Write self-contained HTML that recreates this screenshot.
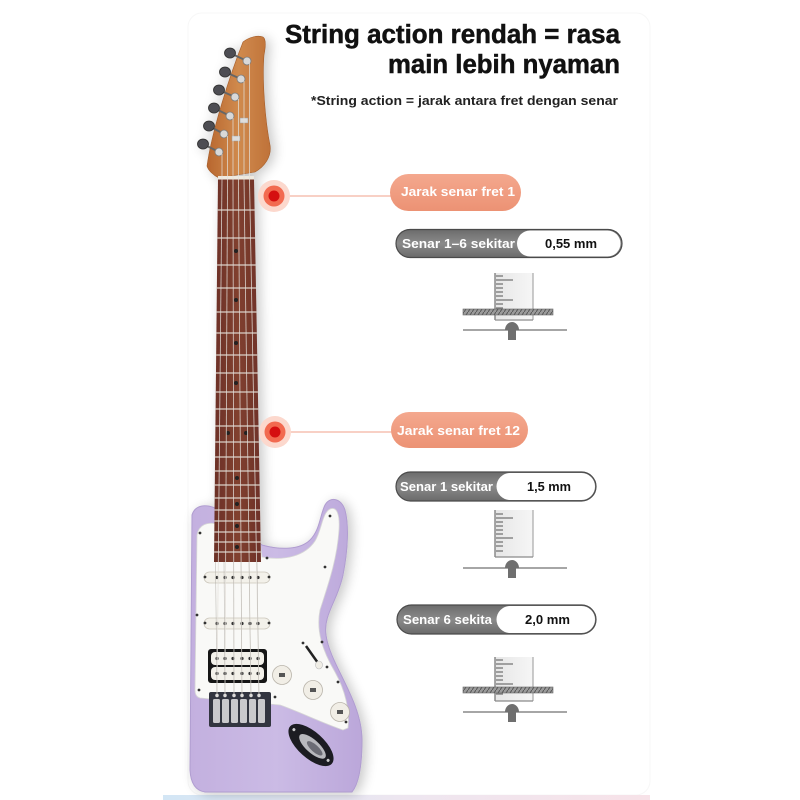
<!DOCTYPE html>
<html><head><meta charset="utf-8"><style>
html,body{margin:0;padding:0;background:#fff;}
svg{display:block;}
text{font-family:"Liberation Sans",Arial,sans-serif;font-weight:bold;}
</style></head><body>
<svg width="800" height="800" viewBox="0 0 800 800" xmlns="http://www.w3.org/2000/svg">
<defs>
<linearGradient id="strip" x1="0" x2="1" y1="0" y2="0"><stop offset="0" stop-color="#d3e6f5"/><stop offset="0.5" stop-color="#eee6f0"/><stop offset="1" stop-color="#f7e2e8"/></linearGradient>
<linearGradient id="head" x1="0" x2="1" y1="0" y2="0"><stop offset="0" stop-color="#b8672f"/><stop offset="0.5" stop-color="#d08a4d"/><stop offset="1" stop-color="#bf7239"/></linearGradient>
<linearGradient id="board" x1="0" x2="1" y1="0" y2="0"><stop offset="0" stop-color="#6b3027"/><stop offset="0.5" stop-color="#81402f"/><stop offset="1" stop-color="#6d3128"/></linearGradient>
<linearGradient id="bodyg" x1="0" x2="1" y1="0" y2="0"><stop offset="0" stop-color="#c3b0df"/><stop offset="0.5" stop-color="#cbbbe5"/><stop offset="1" stop-color="#bba7da"/></linearGradient>
<linearGradient id="pill" x1="0" x2="0" y1="0" y2="1"><stop offset="0" stop-color="#f4a88e"/><stop offset="1" stop-color="#ec9274"/></linearGradient>
<linearGradient id="gray" x1="0" x2="0" y1="0" y2="1"><stop offset="0" stop-color="#6c6c6c"/><stop offset="0.5" stop-color="#8a8a8a"/><stop offset="1" stop-color="#6a6a6a"/></linearGradient>
<linearGradient id="rul" x1="0" x2="1" y1="0" y2="0"><stop offset="0" stop-color="#e6e6e6"/><stop offset="1" stop-color="#f6f6f6"/></linearGradient>
<linearGradient id="strg" x1="0" x2="1" y1="0" y2="0"><stop offset="0" stop-color="#aaa" stop-opacity="0.2"/><stop offset="0.3" stop-color="#888"/><stop offset="0.7" stop-color="#888"/><stop offset="1" stop-color="#aaa" stop-opacity="0.2"/></linearGradient>
<pattern id="hatch" width="4" height="6" patternUnits="userSpaceOnUse"><rect width="4" height="6" fill="#9a9a9a"/><line x1="0" y1="6" x2="4" y2="0" stroke="#555" stroke-width="1"/></pattern>
<clipPath id="fb"><path d="M218,179 L254,179 L261,562 L214,562 Z"/></clipPath>
<filter id="sh" x="-30%" y="-10%" width="160%" height="120%"><feGaussianBlur in="SourceAlpha" stdDeviation="6"/><feOffset dx="4" dy="2"/><feComponentTransfer><feFuncA type="linear" slope="0.22"/></feComponentTransfer><feMerge><feMergeNode/><feMergeNode in="SourceGraphic"/></feMerge></filter>
</defs>

<rect x="0" y="0" width="800" height="800" fill="#fff"/>
<rect x="188" y="13" width="462" height="782" rx="14" fill="#fff" stroke="#f7f7f7" stroke-width="1"/>
<rect x="163" y="795" width="487" height="5" fill="url(#strip)"/>

<text x="285" y="43" font-size="25.5" fill="#111" stroke="#111" stroke-width="0.5" textLength="335" lengthAdjust="spacingAndGlyphs">String action rendah = rasa</text>
<text x="388" y="73" font-size="25.5" fill="#111" stroke="#111" stroke-width="0.5" textLength="232" lengthAdjust="spacingAndGlyphs">main lebih nyaman</text>
<text x="311" y="105" font-size="12.5" fill="#222" textLength="307" lengthAdjust="spacingAndGlyphs">*String action = jarak antara fret dengan senar</text>

<g filter="url(#sh)">
  <path d="M215,508 C205,504 195,505 192,515 L190,770 Q191,790 205,792 L352,792 Q362,780 362,740 C362,700 330,665 326,635 C323,615 338,600 343,575 C348,550 349,525 345,510 C341,498 330,496 325,505 C320,515 320,530 310,540 C300,550 280,550 262,545 Z" fill="url(#bodyg)" stroke="#b09dd0" stroke-width="1"/>
  <path d="M197,535 C199,524 208,522 216,524 L258,524 L262,557 C285,561 305,556 315,541 C322,530 322,513 330,509 C337,506 340,515 339,530 C337,560 328,585 320,610 C316,630 322,650 335,672 C345,690 350,710 348,728 L343,730 C320,722 300,712 280,705 L200,698 C196,697 195,693 195,690 Z" fill="#f9f9f7" stroke="#d6d6d6" stroke-width="0.8"/>
  <path d="M243,42 C249,37 258,35 263,37 C266,39 266,45 264,55 C262,80 265,120 270,145 C272,157 264,167 255,172 L219,178 C213,175 208,170 207,166 C212,130 230,75 243,42 Z" fill="url(#head)" stroke="#a45d2a" stroke-width="0.6"/>
  <path d="M218,179 L254,179 L261,562 L214,562 Z" fill="url(#board)"/>
  <g clip-path="url(#fb)" stroke="#d9cfc6" stroke-width="1.3">
    <line x1="210" x2="265" y1="210" y2="210"/><line x1="210" x2="265" y1="238" y2="238"/><line x1="210" x2="265" y1="265" y2="265"/><line x1="210" x2="265" y1="288" y2="288"/><line x1="210" x2="265" y1="312" y2="312"/><line x1="210" x2="265" y1="333" y2="333"/><line x1="210" x2="265" y1="355" y2="355"/><line x1="210" x2="265" y1="373" y2="373"/><line x1="210" x2="265" y1="392" y2="392"/><line x1="210" x2="265" y1="409" y2="409"/><line x1="210" x2="265" y1="426" y2="426"/><line x1="210" x2="265" y1="442" y2="442"/><line x1="210" x2="265" y1="457" y2="457"/><line x1="210" x2="265" y1="471" y2="471"/><line x1="210" x2="265" y1="485" y2="485"/><line x1="210" x2="265" y1="498" y2="498"/><line x1="210" x2="265" y1="510" y2="510"/><line x1="210" x2="265" y1="521" y2="521"/><line x1="210" x2="265" y1="532" y2="532"/><line x1="210" x2="265" y1="542" y2="542"/><line x1="210" x2="265" y1="552" y2="552"/>
  </g>
  <g fill="#222">
    <circle cx="236" cy="251" r="2"/><circle cx="236" cy="300" r="2"/><circle cx="236" cy="343" r="2"/><circle cx="236" cy="383" r="2"/><circle cx="228" cy="433" r="2"/><circle cx="246" cy="433" r="2"/><circle cx="237" cy="478" r="2"/><circle cx="237" cy="504" r="2"/><circle cx="237" cy="526" r="2"/><circle cx="237" cy="547" r="2"/>
  </g>
  <rect x="218" y="176" width="36" height="3.5" fill="#efe9df"/>
  <g stroke="#666" stroke-width="2">
    <line x1="230" y1="53" x2="247" y2="61"/><line x1="225" y1="72" x2="241" y2="79"/><line x1="219" y1="90" x2="235" y2="97"/><line x1="214" y1="108" x2="230" y2="116"/><line x1="209" y1="126" x2="224" y2="134"/><line x1="203" y1="144" x2="219" y2="152"/>
  </g>
  <g fill="#4e4e52" stroke="#2e2e2e" stroke-width="0.8">
    <ellipse cx="230" cy="53" rx="5.5" ry="5"/><ellipse cx="225" cy="72" rx="5.5" ry="5"/><ellipse cx="219" cy="90" rx="5.5" ry="5"/><ellipse cx="214" cy="108" rx="5.5" ry="5"/><ellipse cx="209" cy="126" rx="5.5" ry="5"/><ellipse cx="203" cy="144" rx="5.5" ry="5"/>
  </g>
  <g fill="#d8d8d8" stroke="#7a7a7a" stroke-width="0.8">
    <circle cx="247" cy="61" r="4"/><circle cx="241" cy="79" r="4"/><circle cx="235" cy="97" r="4"/><circle cx="230" cy="116" r="4"/><circle cx="224" cy="134" r="4"/><circle cx="219" cy="152" r="4"/>
  </g>
  <rect x="240" y="118" width="8" height="5" fill="#ddd" stroke="#999" stroke-width="0.5"/>
  <rect x="232" y="136" width="8" height="5" fill="#ddd" stroke="#999" stroke-width="0.5"/>
  <rect x="204" y="572" width="66" height="11" rx="5.5" fill="#f3f1ea" stroke="#cbc6bb" stroke-width="0.8"/>
  <rect x="204" y="618" width="66" height="11" rx="5.5" fill="#f3f1ea" stroke="#cbc6bb" stroke-width="0.8"/>
  <rect x="208" y="649" width="59" height="34" rx="3" fill="#151515"/>
  <rect x="211" y="652" width="53" height="13" rx="4" fill="#f3f1ea"/>
  <rect x="211" y="667" width="53" height="13" rx="4" fill="#f3f1ea"/>
  <g fill="#333">
    <circle cx="217" cy="577.5" r="1.6"/><circle cx="225" cy="577.5" r="1.6"/><circle cx="233" cy="577.5" r="1.6"/><circle cx="242" cy="577.5" r="1.6"/><circle cx="250" cy="577.5" r="1.6"/><circle cx="258" cy="577.5" r="1.6"/>
    <circle cx="217" cy="623.5" r="1.6"/><circle cx="225" cy="623.5" r="1.6"/><circle cx="233" cy="623.5" r="1.6"/><circle cx="242" cy="623.5" r="1.6"/><circle cx="250" cy="623.5" r="1.6"/><circle cx="258" cy="623.5" r="1.6"/>
    <circle cx="217" cy="658.5" r="1.6"/><circle cx="225" cy="658.5" r="1.6"/><circle cx="233" cy="658.5" r="1.6"/><circle cx="242" cy="658.5" r="1.6"/><circle cx="250" cy="658.5" r="1.6"/><circle cx="258" cy="658.5" r="1.6"/>
    <circle cx="217" cy="673.5" r="1.6"/><circle cx="225" cy="673.5" r="1.6"/><circle cx="233" cy="673.5" r="1.6"/><circle cx="242" cy="673.5" r="1.6"/><circle cx="250" cy="673.5" r="1.6"/><circle cx="258" cy="673.5" r="1.6"/>
    <circle cx="200" cy="533" r="1.4"/><circle cx="267" cy="558" r="1.4"/><circle cx="197" cy="615" r="1.4"/><circle cx="330" cy="516" r="1.4"/><circle cx="325" cy="567" r="1.4"/><circle cx="303" cy="643" r="1.4"/><circle cx="322" cy="642" r="1.4"/><circle cx="327" cy="667" r="1.4"/><circle cx="338" cy="682" r="1.4"/><circle cx="275" cy="697" r="1.4"/><circle cx="346" cy="722" r="1.4"/><circle cx="199" cy="690" r="1.4"/><circle cx="205" cy="577" r="1.4"/><circle cx="269" cy="577" r="1.4"/><circle cx="205" cy="623" r="1.4"/><circle cx="269" cy="623" r="1.4"/>
  </g>
  <line x1="306" y1="646" x2="318" y2="663" stroke="#222" stroke-width="2.5"/>
  <ellipse cx="319" cy="665" rx="3.5" ry="4" fill="#f0eee6" stroke="#bbb" stroke-width="0.6"/>
  <g fill="#f1eee6" stroke="#b9b4aa" stroke-width="0.8">
    <circle cx="282" cy="675" r="9.5"/><circle cx="313" cy="690" r="9.5"/><circle cx="340" cy="712" r="9.5"/>
  </g>
  <g fill="#555"><rect x="279" y="673" width="6" height="4"/><rect x="310" y="688" width="6" height="4"/><rect x="337" y="710" width="6" height="4"/></g>
  <rect x="209" y="692" width="62" height="35" rx="2" fill="#33343f"/>
  <g fill="#c9c9cc">
    <rect x="213" y="699" width="7" height="24" rx="1.5"/><rect x="222" y="699" width="7" height="24" rx="1.5"/><rect x="231" y="699" width="7" height="24" rx="1.5"/><rect x="240" y="699" width="7" height="24" rx="1.5"/><rect x="249" y="699" width="7" height="24" rx="1.5"/><rect x="258" y="699" width="7" height="24" rx="1.5"/>
  </g>
  <g fill="#eee"><circle cx="217" cy="695.5" r="1.7"/><circle cx="225" cy="695.5" r="1.7"/><circle cx="234" cy="695.5" r="1.7"/><circle cx="242" cy="695.5" r="1.7"/><circle cx="251" cy="695.5" r="1.7"/><circle cx="259" cy="695.5" r="1.7"/></g>
  <g transform="rotate(42 311 745)">
    <ellipse cx="311" cy="745" rx="28" ry="13" fill="#1d1d24"/>
    <ellipse cx="313" cy="745" rx="17" ry="6.5" fill="#b8b8bd"/>
    <ellipse cx="316" cy="745" rx="10" ry="3.5" fill="#6c6c74"/>
    <circle cx="288" cy="745" r="1.5" fill="#ccc"/><circle cx="334" cy="745" r="1.5" fill="#ccc"/>
  </g>
  <g stroke="#e3e0da" stroke-width="0.8" opacity="0.9">
    <line x1="249.5" y1="63" x2="249.5" y2="179"/><line x1="244" y1="81" x2="244" y2="179"/><line x1="238.5" y1="99" x2="238.5" y2="179"/><line x1="233" y1="118" x2="233" y2="179"/><line x1="227.5" y1="136" x2="227.5" y2="179"/><line x1="222" y1="154" x2="222" y2="179"/>
    <line x1="222" y1="179" x2="217" y2="697"/><line x1="227.5" y1="179" x2="225" y2="697"/><line x1="233" y1="179" x2="234" y2="697"/><line x1="238.5" y1="179" x2="242" y2="697"/><line x1="244" y1="179" x2="251" y2="697"/><line x1="249.5" y1="179" x2="259" y2="697"/>
  </g>
  <g stroke="#b0aca6" stroke-width="0.6" opacity="0.8">
    <line x1="215.5" y1="562" x2="217" y2="697"/><line x1="224" y1="562" x2="225" y2="697"/><line x1="233.7" y1="562" x2="234" y2="697"/><line x1="241" y1="562" x2="242" y2="697"/><line x1="249" y1="562" x2="251" y2="697"/><line x1="257" y1="562" x2="259" y2="697"/>
  </g>
</g>

<line x1="290" y1="196" x2="393" y2="196" stroke="#f3b3a2" stroke-width="1.2"/>
<line x1="291" y1="432" x2="393" y2="432" stroke="#f3b3a2" stroke-width="1.2"/>
<circle cx="274" cy="196" r="16" fill="#fcd8cd"/>
<circle cx="274" cy="196" r="10.5" fill="#f26a50"/>
<circle cx="274" cy="196" r="5.5" fill="#d50f10"/>
<circle cx="275" cy="432" r="16" fill="#fcd8cd"/>
<circle cx="275" cy="432" r="10.5" fill="#f26a50"/>
<circle cx="275" cy="432" r="5.5" fill="#d50f10"/>

<rect x="390" y="174" width="131" height="37" rx="18.5" fill="url(#pill)"/>
<text x="401" y="196" font-size="13" fill="#fff" textLength="114" lengthAdjust="spacingAndGlyphs">Jarak senar fret 1</text>
<rect x="391" y="412" width="137" height="36" rx="18" fill="url(#pill)"/>
<text x="397" y="435" font-size="13" fill="#fff" textLength="123" lengthAdjust="spacingAndGlyphs">Jarak senar fret 12</text>

<rect x="396" y="229.5" width="226" height="28" rx="14" fill="url(#gray)" stroke="#4a4a4a" stroke-width="1.2"/>
<path d="M530,230.5 L607.5,230.5 A13,13 0 0 1 607.5,256.5 L530,256.5 A13,13 0 0 1 530,230.5 Z" fill="#fff"/>
<text x="402" y="248" font-size="12.5" fill="#fff" textLength="113" lengthAdjust="spacingAndGlyphs">Senar 1–6 sekitar</text>
<text x="545" y="248" font-size="12.5" fill="#111" textLength="52" lengthAdjust="spacingAndGlyphs">0,55 mm</text>

<rect x="396" y="472" width="200" height="29" rx="14.5" fill="url(#gray)" stroke="#4a4a4a" stroke-width="1.2"/>
<path d="M510,473 L581.5,473 A13.5,13.5 0 0 1 581.5,500 L510,500 A13.5,13.5 0 0 1 510,473 Z" fill="#fff"/>
<text x="400" y="491" font-size="12.5" fill="#fff" textLength="93" lengthAdjust="spacingAndGlyphs">Senar 1 sekitar</text>
<text x="527" y="491" font-size="12.5" fill="#111" textLength="44" lengthAdjust="spacingAndGlyphs">1,5 mm</text>

<rect x="397" y="605" width="199" height="29" rx="14.5" fill="url(#gray)" stroke="#4a4a4a" stroke-width="1.2"/>
<path d="M510,606 L581.5,606 A13.5,13.5 0 0 1 581.5,633 L510,633 A13.5,13.5 0 0 1 510,606 Z" fill="#fff"/>
<text x="403" y="624" font-size="12.5" fill="#fff" textLength="89" lengthAdjust="spacingAndGlyphs">Senar 6 sekita</text>
<text x="525" y="624" font-size="12.5" fill="#111" textLength="45" lengthAdjust="spacingAndGlyphs">2,0 mm</text>

<g>
  <rect x="495" y="273" width="38" height="46" fill="url(#rul)"/>
  <line x1="495" y1="273" x2="495" y2="320" stroke="#8a8a8a" stroke-width="1.5"/>
  <line x1="533" y1="273" x2="533" y2="320" stroke="#a8a8a8" stroke-width="1.2"/>
  <line x1="495" y1="320" x2="533" y2="320" stroke="#8a8a8a" stroke-width="1.2"/>
  <g stroke="#555" stroke-width="1">
    <line x1="496" y1="276" x2="503" y2="276"/><line x1="496" y1="280" x2="513" y2="280"/><line x1="496" y1="284" x2="503" y2="284"/><line x1="496" y1="288" x2="503" y2="288"/><line x1="496" y1="292" x2="503" y2="292"/><line x1="496" y1="296" x2="503" y2="296"/><line x1="496" y1="300" x2="513" y2="300"/><line x1="496" y1="304" x2="503" y2="304"/><line x1="496" y1="308" x2="503" y2="308"/><line x1="496" y1="313" x2="503" y2="313"/>
  </g>
  <rect x="463" y="309" width="90" height="6" fill="url(#hatch)" stroke="#666" stroke-width="0.6"/>
  <line x1="463" y1="330" x2="567" y2="330" stroke="#888" stroke-width="1.5"/>
  <path d="M505,330 A7,8 0 0 1 519,330 Z" fill="#6f6f6f"/>
  <rect x="508" y="330" width="8" height="10" fill="#6f6f6f"/>
</g>

<g>
  <rect x="495" y="510" width="38" height="47" fill="url(#rul)"/>
  <line x1="495" y1="510" x2="495" y2="557" stroke="#8a8a8a" stroke-width="1.5"/>
  <line x1="533" y1="510" x2="533" y2="557" stroke="#a8a8a8" stroke-width="1.2"/>
  <line x1="495" y1="557" x2="533" y2="557" stroke="#8a8a8a" stroke-width="1.2"/>
  <g stroke="#555" stroke-width="1">
    <line x1="496" y1="514" x2="503" y2="514"/><line x1="496" y1="518" x2="513" y2="518"/><line x1="496" y1="522" x2="503" y2="522"/><line x1="496" y1="526" x2="503" y2="526"/><line x1="496" y1="530" x2="503" y2="530"/><line x1="496" y1="534" x2="503" y2="534"/><line x1="496" y1="538" x2="513" y2="538"/><line x1="496" y1="542" x2="503" y2="542"/><line x1="496" y1="546" x2="503" y2="546"/><line x1="496" y1="551" x2="503" y2="551"/>
  </g>
  <line x1="463" y1="548" x2="567" y2="548" stroke="url(#strg)" stroke-width="2"/>
  <line x1="463" y1="568" x2="567" y2="568" stroke="#888" stroke-width="1.5"/>
  <path d="M505,568 A7,8 0 0 1 519,568 Z" fill="#6f6f6f"/>
  <rect x="508" y="568" width="8" height="10" fill="#6f6f6f"/>
</g>

<g>
  <rect x="495" y="657" width="38" height="44" fill="url(#rul)"/>
  <line x1="495" y1="657" x2="495" y2="701" stroke="#8a8a8a" stroke-width="1.5"/>
  <line x1="533" y1="657" x2="533" y2="701" stroke="#a8a8a8" stroke-width="1.2"/>
  <line x1="495" y1="701" x2="533" y2="701" stroke="#8a8a8a" stroke-width="1.2"/>
  <g stroke="#555" stroke-width="1">
    <line x1="496" y1="660" x2="503" y2="660"/><line x1="496" y1="664" x2="513" y2="664"/><line x1="496" y1="668" x2="503" y2="668"/><line x1="496" y1="672" x2="503" y2="672"/><line x1="496" y1="676" x2="503" y2="676"/><line x1="496" y1="680" x2="503" y2="680"/><line x1="496" y1="684" x2="513" y2="684"/><line x1="496" y1="689" x2="503" y2="689"/><line x1="496" y1="694" x2="503" y2="694"/>
  </g>
  <rect x="463" y="687" width="90" height="6" fill="url(#hatch)" stroke="#666" stroke-width="0.6"/>
  <line x1="463" y1="712" x2="567" y2="712" stroke="#888" stroke-width="1.5"/>
  <path d="M505,712 A7,8 0 0 1 519,712 Z" fill="#6f6f6f"/>
  <rect x="508" y="712" width="8" height="10" fill="#6f6f6f"/>
</g>
</svg>
</body></html>
